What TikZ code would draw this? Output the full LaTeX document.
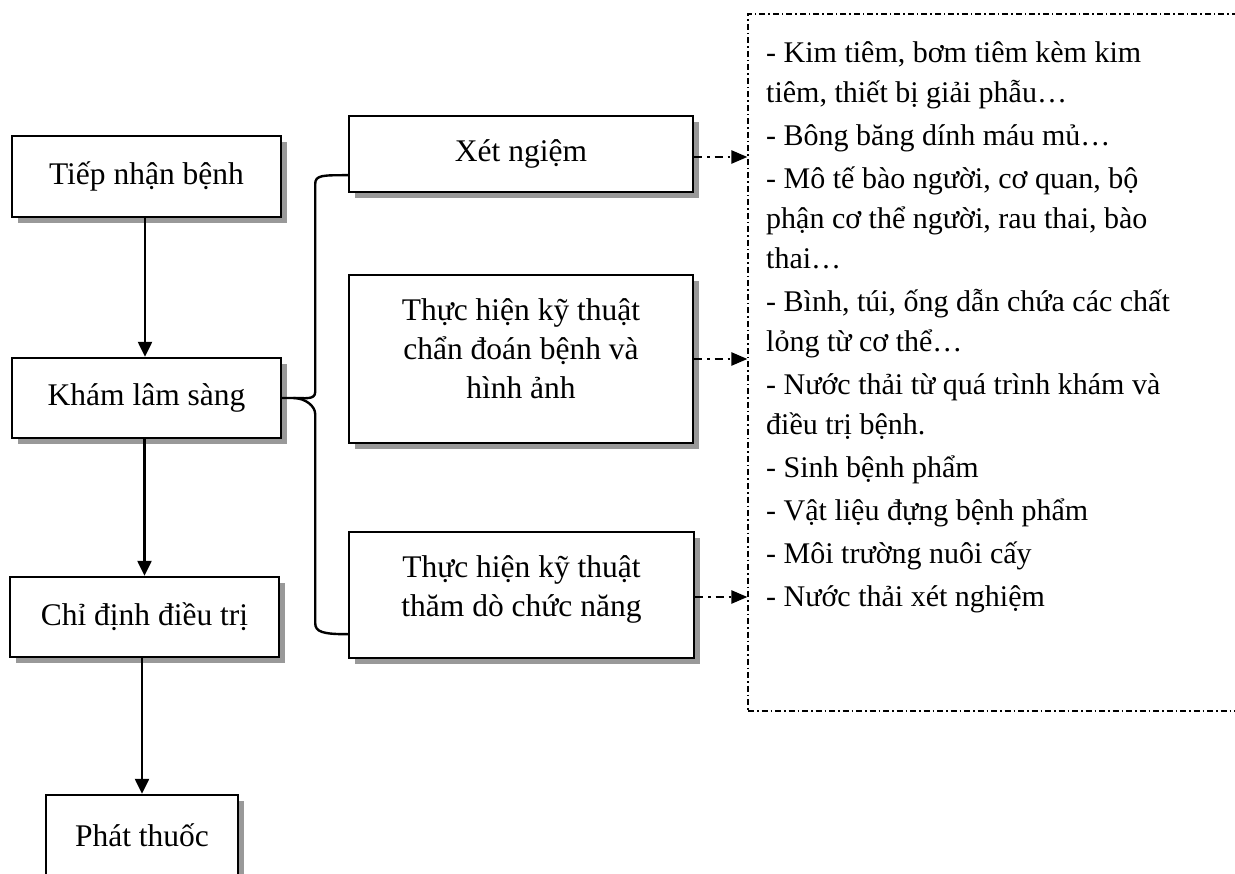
\documentclass[tikz,border=0pt]{standalone}
\usepackage{fontspec}
\setmainfont{Liberation Serif}
\usetikzlibrary{arrows.meta,shadows,calc}
\begin{document}
\begin{tikzpicture}[x=1pt,y=-1pt,
  box/.style={draw=black, line width=2.4pt, fill=white, align=center, inner sep=0pt,
    font=\fontsize{31.5}{39}\selectfont,
    drop shadow={shadow xshift=6pt, shadow yshift=-6pt, fill=black!40, opacity=1}},
  boxtext/.style={align=center, inner sep=0pt, font=\fontsize{31.5}{39}\selectfont},
  flow/.style={line width=2.4pt, -{Triangle[length=15pt,width=14pt]}},
  leak/.style={line width=2.4pt, dash pattern=on 8pt off 5pt on 2.5pt off 5pt,
    -{Triangle[length=16pt,width=13pt]}},
  brace/.style={line width=2.4pt},
  wastebox/.style={draw=black, line width=1.2pt, dash pattern=on 6pt off 3pt on 1.5pt off 3pt,
    inner sep=0pt}]
\useasboundingbox (0,0) rectangle (1235,874);

% main treatment chain
\node[box, minimum width=269pt, minimum height=81pt] (tiep) at (146.5,176.5) {Tiếp nhận bệnh};
\node[box, minimum width=269pt, minimum height=80pt] (kham) at (146.5,398) {Khám lâm sàng};
\node[box, minimum width=269pt, minimum height=80pt] (chi) at (144.5,617) {Chỉ định điều trị};
\node[box, minimum width=192pt, minimum height=80pt] (phat) at (142,835) {Phát thuốc};

% services branching from the clinical exam
\node[box, minimum width=344pt, minimum height=76pt] (xet) at (521,154) {Xét ngiệm};
\node[box, minimum width=344pt, minimum height=168pt] (chan) at (521,359) {};
\node[boxtext] (chantext) at ($(chan.center)+(0,-10)$)
  {Thực hiện kỹ thuật\\chẩn đoán bệnh và\\hình ảnh};
\node[box, minimum width=345pt, minimum height=126pt] (tham) at (521.5,595) {};
\node[boxtext] (thamtext) at ($(tham.center)+(0,-6)$)
  {Thực hiện kỹ thuật\\thăm dò chức năng};

% waste list
\node[wastebox, minimum width=497pt, minimum height=697pt] (waste) at (996.5,362.5) {};
\node[anchor=north west, align=left, inner sep=0pt, font=\fontsize{30}{40}\selectfont]
  (list) at (766,41) {%
  - Kim tiêm, bơm tiêm kèm kim\\
  tiêm, thiết bị giải phẫu…\\[3pt]
  - Bông băng dính máu mủ…\\[3pt]
  - Mô tế bào người, cơ quan, bộ\\
  phận cơ thể người, rau thai, bào\\
  thai…\\[3pt]
  - Bình, túi, ống dẫn chứa các chất\\
  lỏng từ cơ thể…\\[3pt]
  - Nước thải từ quá trình khám và\\
  điều trị bệnh.\\[3pt]
  - Sinh bệnh phẩm\\[3pt]
  - Vật liệu đựng bệnh phẩm\\[3pt]
  - Môi trường nuôi cấy\\[3pt]
  - Nước thải xét nghiệm};

% flow arrows
\draw[flow] (tiep.south -| 145,0) -- (kham.north -| 145,0);
\draw[flow] (chi.north |- kham.south) -- (chi.north);
\draw[flow] (phat.north |- chi.south) -- (phat.north);

% brace joining the exam to the three services
\coordinate (bt) at ($(xet.south west)+(0,-18)$);
\coordinate (bb) at ($(tham.south west)+(0,-25)$);
\coordinate (bx) at ($(kham.east)+(33,0)$);
\coordinate (tip) at ($(kham.east)+(11,0)$);
\draw[brace] (bt) .. controls +(-25,0) and +(0,-9) .. (bx |- 0,184)
  -- (bx |- 0,392) .. controls +(0,8) and +(12,0) .. (tip) -- (kham.east);
\draw[brace] (tip) .. controls +(12,0) and +(0,-8) .. (bx |- 0,414)
  -- (bx |- 0,623) .. controls +(0,9) and +(-25,0) .. (bb);

% waste produced by each service
\coordinate (xo) at ($(xet.east)+(0,3)$);
\coordinate (co) at (chan.east);
\coordinate (to) at ($(tham.east)+(0,2)$);
\draw[leak] (xo) -- (xo -| waste.west);
\draw[leak] (co) -- (co -| waste.west);
\draw[leak] (to) -- (to -| waste.west);
\end{tikzpicture}
\end{document}
